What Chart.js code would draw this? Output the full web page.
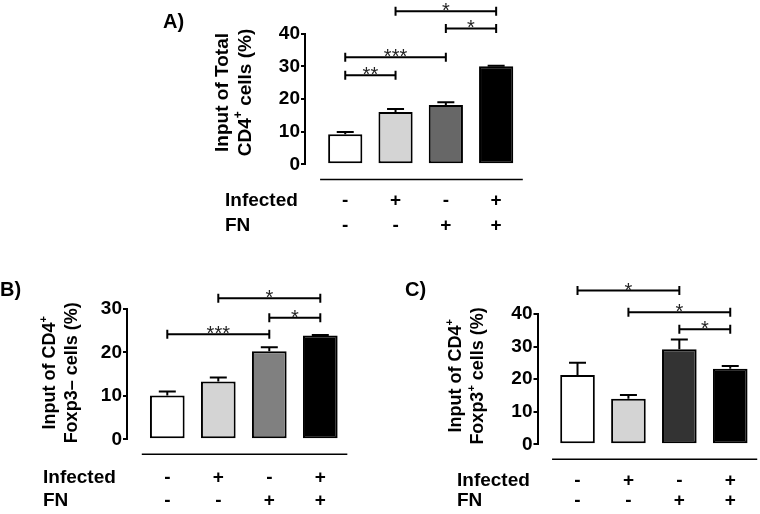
<!DOCTYPE html>
<html>
<head>
<meta charset="utf-8">
<script src="https://cdn.jsdelivr.net/npm/chart.js@4.4.1/dist/chart.umd.min.js"></script>
<style>
html, body { margin: 0; padding: 0; background: #fff; }
#wrap { position: relative; width: 760px; height: 514px; overflow: hidden; background: #fff; }
#wrap canvas { position: absolute; left: 0; top: 0; }
</style>
</head>
<body>
<div id="wrap">
  <canvas id="cA" width="760" height="514"></canvas>
  <canvas id="cB" width="760" height="514"></canvas>
  <canvas id="cC" width="760" height="514"></canvas>
</div>
<script>
// ---------- data ----------
const groups = ['Control', 'Infected', 'FN', 'Infected + FN'];
const infectedRow = ['-', '+', '-', '+'];
const fnRow = ['-', '-', '+', '+'];
const rowLabels = ['Infected', 'FN'];

// Panel A: total CD4+ cells
const meanA = [9.2, 16.0, 18.2, 30.0];
const semA = [0.7, 0.9, 0.8, 0.2];
const ticksA = [0, 10, 20, 30, 40];
const sigA = [[0, 1, 27.3, '**'], [0, 2, 32.8, '***'], [2, 3, 41.6, '*'], [1, 3, 46.9, '*']];

// Panel B: CD4+ Foxp3- cells
const meanB = [10.1, 13.3, 20.3, 23.9];
const semB = [0.9, 0.9, 0.9, 0.1];
const ticksB = [0, 10, 20, 30];
const sigB = [[0, 2, 24.2, '***'], [2, 3, 28.0, '*'], [1, 3, 32.5, '*']];

// Panel C: CD4+ Foxp3+ cells
const meanC = [21.3, 14.0, 29.2, 23.2];
const semC = [3.7, 1.1, 3.0, 0.8];
const ticksC = [0, 10, 20, 30, 40];
const sigC = [[0, 2, 47.2, '*'], [1, 3, 40.5, '*'], [2, 3, 35.3, '*']];

// ---------- styling / layout ----------
const FONT = "'Liberation Sans', Arial, Helvetica, sans-serif";
const colorsA = ['#ffffff', '#d4d4d4', '#676767', '#000000'];
const colorsB = ['#ffffff', '#d4d4d4', '#808080', '#000000'];
const colorsC = ['#ffffff', '#d4d4d4', '#333333', '#000000'];
const AXIS_W = 60;

const panels = [
  { id: 'cA', letter: 'A)', mean: meanA, sem: semA, ticks: ticksA, sig: sigA, colors: colorsA,
    title: ['Input of Total', 'CD4{+} cells (%)'], titleSize: 19,
    axisX: 305, top: 33.7, bottom: 164.3, right: 521.3, xMin: -0.8, xMax: 3.5,
    letterPos: [163, 22], titleX: [221.5, 244], titleVal: 22,
    rowX: 225, rowDy: [36, 61], sepDy: 15.2 },
  { id: 'cB', letter: 'B)', mean: meanB, sem: semB, ticks: ticksB, sig: sigB, colors: colorsB,
    title: ['Input of CD4{+}', 'Foxp3\u2013 cells (%)'], titleSize: 18,
    axisX: 127, top: 309, bottom: 439.3, right: 345.8, xMin: -0.79, xMax: 3.5,
    letterPos: [0, 290], titleX: [49, 71], titleVal: 15.3,
    rowX: 43, rowDy: [38, 61], sepDy: 15 },
  { id: 'cC', letter: 'C)', mean: meanC, sem: semC, ticks: ticksC, sig: sigC, colors: colorsC,
    title: ['Input of CD4{+}', 'Foxp3{+} cells (%)'], titleSize: 18,
    axisX: 537.5, top: 314, bottom: 444.3, right: 755.7, xMin: -0.786, xMax: 3.5,
    letterPos: [405, 290.5], titleX: [455, 477], titleVal: 21,
    rowX: 457, rowDy: [36, 56.5], sepDy: 15 }
];

function parseRich(s) {
  const out = []; const re = /\{([^}]*)\}/g; let last = 0, m;
  while ((m = re.exec(s))) {
    if (m.index > last) out.push({ t: s.slice(last, m.index) });
    out.push({ t: m[1], sup: true });
    last = re.lastIndex;
  }
  if (last < s.length) out.push({ t: s.slice(last) });
  return out;
}

function drawRichRotated(ctx, str, cx, cy, size) {
  const segs = parseRich(str);
  const mf = `bold ${size}px ${FONT}`;
  const sf = `bold ${Math.round(size * 0.62)}px ${FONT}`;
  let w = 0;
  segs.forEach(s => { ctx.font = s.sup ? sf : mf; s.w = ctx.measureText(s.t).width; w += s.w; });
  ctx.save();
  ctx.translate(cx, cy);
  ctx.rotate(-Math.PI / 2);
  ctx.textAlign = 'left';
  ctx.textBaseline = 'alphabetic';
  ctx.fillStyle = '#000';
  let x = -w / 2;
  const base = size * 0.36;
  segs.forEach(s => {
    ctx.font = s.sup ? sf : mf;
    ctx.fillText(s.t, x, s.sup ? base - size * 0.48 : base);
    x += s.w;
  });
  ctx.restore();
}

function makePlugin(p) {
  return {
    id: 'annot_' + p.id,
    afterDraw(chart) {
      const { ctx, chartArea: ca, scales: { x, y } } = chart;
      ctx.save();
      ctx.strokeStyle = '#000';
      ctx.fillStyle = '#000';
      ctx.lineWidth = 2;
      ctx.lineCap = 'butt';

      // error bars (upper half)
      const capW = 17;
      p.mean.forEach((m, i) => {
        const cx = x.getPixelForValue(i);
        const y0 = y.getPixelForValue(m);
        const y1 = y.getPixelForValue(m + p.sem[i]);
        ctx.beginPath();
        ctx.moveTo(cx, y0); ctx.lineTo(cx, y1);
        ctx.moveTo(cx - capW / 2, y1); ctx.lineTo(cx + capW / 2, y1);
        ctx.stroke();
      });

      // significance brackets
      p.sig.forEach(([a, b, lvl, lab]) => {
        const x1 = x.getPixelForValue(a), x2 = x.getPixelForValue(b);
        const yy = y.getPixelForValue(lvl);
        ctx.beginPath();
        ctx.moveTo(x1, yy); ctx.lineTo(x2, yy);
        ctx.moveTo(x1, yy - 4.5); ctx.lineTo(x1, yy + 4.5);
        ctx.moveTo(x2, yy - 4.5); ctx.lineTo(x2, yy + 4.5);
        ctx.stroke();
        ctx.font = `normal 20px ${FONT}`;
        ctx.fillStyle = '#222';
        ctx.textAlign = 'center';
        ctx.textBaseline = 'alphabetic';
        ctx.fillText(lab, (x1 + x2) / 2, yy + 6);
      });

      // separator line under the chart
      ctx.lineWidth = 1.5;
      ctx.strokeStyle = '#000';
      const sy = ca.bottom + p.sepDy;
      ctx.beginPath();
      ctx.moveTo(x.getPixelForValue(-0.5), sy);
      ctx.lineTo(x.getPixelForValue(3.53), sy);
      ctx.stroke();

      // condition rows
      ctx.fillStyle = '#000';
      ctx.font = `bold 19px ${FONT}`;
      ctx.textBaseline = 'middle';
      [infectedRow, fnRow].forEach((row, r) => {
        const ry = ca.bottom + p.rowDy[r];
        ctx.textAlign = 'left';
        ctx.fillText(rowLabels[r], p.rowX, ry);
        ctx.textAlign = 'center';
        row.forEach((mark, i) => ctx.fillText(mark, x.getPixelForValue(i), ry));
      });

      // panel letter
      ctx.font = `bold 20px ${FONT}`;
      ctx.textAlign = 'left';
      ctx.textBaseline = 'middle';
      ctx.fillText(p.letter, p.letterPos[0], p.letterPos[1]);

      // y axis title
      const cy = y.getPixelForValue(p.titleVal);
      p.title.forEach((line, k) => drawRichRotated(ctx, line, p.titleX[k], cy, p.titleSize));

      ctx.restore();
    }
  };
}

Chart.defaults.font.family = FONT;

panels.forEach(p => {
  const ctx = document.getElementById(p.id).getContext('2d');
  new Chart(ctx, {
    type: 'bar',
    data: {
      labels: groups,
      datasets: [{
        data: p.mean.map((v, i) => ({ x: i, y: v })),
        backgroundColor: p.colors,
        borderColor: '#000',
        borderWidth: 2,
        borderSkipped: false,
        barPercentage: 0.68,
        categoryPercentage: 1
      }]
    },
    options: {
      responsive: false,
      animation: false,
      devicePixelRatio: 1,
      events: [],
      layout: {
        padding: {
          left: p.axisX - AXIS_W,
          top: p.top,
          right: 760 - p.right,
          bottom: 514 - p.bottom
        }
      },
      plugins: { legend: { display: false }, tooltip: { enabled: false }, title: { display: false } },
      scales: {
        x: {
          type: 'linear', min: p.xMin, max: p.xMax, offset: false, display: false,
          afterBuildTicks: s => { s.ticks = groups.map((_, i) => ({ value: i })); }
        },
        y: {
          type: 'linear', min: p.ticks[0], max: p.ticks[p.ticks.length - 1],
          afterFit: s => { s.width = AXIS_W; },
          afterBuildTicks: s => { s.ticks = p.ticks.map(v => ({ value: v })); },
          ticks: {
            color: '#000', padding: 1,
            font: { family: FONT, size: 19, weight: 'bold' },
            callback: (v) => String(v)
          },
          grid: { display: true, drawOnChartArea: false, drawTicks: true, tickLength: 4, color: '#000', lineWidth: 2 },
          border: { display: true, color: '#000', width: 2 }
        }
      }
    },
    plugins: [makePlugin(p)]
  });
});
</script>
</body>
</html>
